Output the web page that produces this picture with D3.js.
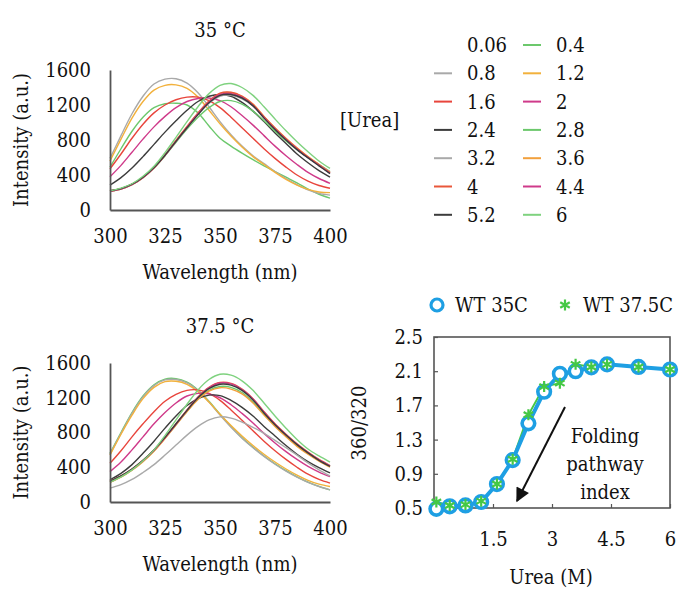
<!DOCTYPE html>
<html>
<head>
<meta charset="utf-8">
<script src="https://cdn.jsdelivr.net/npm/d3@7"></script>
</head>
<body style="margin:0;background:#fff;">
<svg id="fig" width="680" height="590"></svg>
<script>
// Emission wavelengths (nm) at which each spectrum is sampled
const wavelengths = [300,305,310,315,320,325,330,335,340,345,350,355,360,365,370,375,380,385,390,395,400];

// Urea concentrations (M) of the spectra, in legend order
const ureaLabels = ["0.06","0.4","0.8","1.2","1.6","2","2.4","2.8","3.2","3.6","4","4.4","5.2","6"];
const lineColors = ["#ffffff","#6cc86c","#a9a9a9","#f2b13c","#e8453c","#cf3a8a","#3c3c3c",
                    "#6cc86c","#a9a9a9","#f2a03c","#e9573a","#cf3a8a","#3c3c3c","#7fd27f"];

// Fluorescence intensity (a.u.) at 35 °C, one row per urea concentration
const spectra35 = [
  [480,690,890,1050,1160,1210,1220,1195,1110,970,830,730,645,570,500,435,370,305,240,180,135],
  [490,700,900,1060,1170,1215,1220,1200,1110,960,820,730,650,575,505,440,375,310,240,180,135],
  [590,850,1100,1300,1440,1495,1500,1450,1340,1180,1010,860,730,620,530,440,360,290,230,190,170],
  [560,810,1050,1240,1370,1425,1430,1390,1290,1140,985,845,720,610,520,430,350,285,235,205,198],
  [470,640,820,980,1110,1200,1260,1290,1290,1250,1170,1060,940,820,700,590,490,400,330,280,248],
  [380,510,660,810,950,1070,1170,1240,1275,1280,1250,1180,1080,970,850,730,620,520,430,360,305],
  [285,370,480,610,750,890,1020,1140,1240,1300,1320,1300,1230,1130,1010,880,760,640,540,450,375],
  [215,240,290,370,480,620,775,925,1060,1170,1240,1250,1210,1130,1020,900,790,690,600,520,440],
  [220,245,295,375,485,625,785,940,1090,1220,1300,1310,1270,1190,1060,930,810,700,600,515,435],
  [215,240,290,370,480,625,790,950,1105,1240,1330,1340,1300,1210,1070,940,820,710,610,520,430],
  [220,245,295,375,485,630,795,955,1110,1245,1335,1345,1300,1205,1065,935,815,705,605,515,425],
  [215,240,290,370,480,625,785,945,1100,1235,1320,1330,1290,1195,1055,925,805,695,600,510,420],
  [220,245,295,375,485,625,785,940,1090,1225,1310,1320,1280,1190,1050,920,800,690,595,505,415],
  [220,250,300,385,500,655,830,1010,1180,1330,1425,1445,1400,1310,1180,1040,905,780,665,560,475]
];

// Fluorescence intensity (a.u.) at 37.5 °C, one row per urea concentration
const spectra375 = [
  [560,800,1030,1220,1350,1415,1420,1380,1290,1160,1010,870,740,630,530,440,360,290,230,180,140],
  [560,800,1030,1220,1350,1415,1420,1380,1290,1160,1010,870,740,630,530,440,360,290,230,180,140],
  [550,790,1020,1210,1340,1405,1410,1370,1280,1150,1000,860,735,625,525,435,355,285,225,178,140],
  [540,780,1000,1190,1320,1385,1390,1355,1270,1150,1010,880,760,650,550,460,380,310,250,205,178],
  [445,590,750,900,1040,1160,1240,1285,1290,1250,1170,1060,940,820,700,590,490,400,320,260,218],
  [350,460,600,750,900,1030,1140,1220,1250,1245,1200,1120,1020,910,790,680,580,490,410,345,292],
  [255,330,430,560,700,850,990,1110,1190,1230,1225,1170,1090,990,870,760,650,550,465,395,334],
  [230,290,370,470,590,735,890,1045,1185,1285,1330,1320,1260,1150,1010,880,760,650,560,480,410],
  [160,200,260,340,430,540,655,770,870,945,980,965,920,860,790,710,625,540,450,370,300],
  [225,285,365,465,585,730,885,1040,1180,1275,1315,1300,1245,1140,1000,870,750,640,550,470,400],
  [240,300,380,480,600,745,900,1060,1210,1320,1375,1365,1300,1190,1040,900,780,670,575,490,420],
  [235,295,375,475,595,740,895,1055,1205,1315,1370,1360,1295,1185,1035,895,775,665,570,485,415],
  [240,300,380,480,600,745,900,1055,1200,1305,1355,1345,1285,1175,1025,890,770,660,565,480,410],
  [230,290,370,475,600,765,945,1125,1290,1410,1470,1460,1395,1285,1140,990,850,720,610,530,460]
];

const intensityTicks = [0, 400, 800, 1200, 1600];
const wavelengthTicks = [300, 325, 350, 375, 400];

// 360/320 intensity ratio versus urea
const ratioUrea = [0.06,0.4,0.8,1.2,1.6,2,2.4,2.8,3.2,3.6,4,4.4,5.2,6];
const ratioWT35 = [0.49,0.52,0.53,0.57,0.78,1.06,1.49,1.86,2.07,2.10,2.145,2.18,2.15,2.12];
const ratioWT375 = [0.57,0.53,0.54,0.58,0.78,1.07,1.59,1.92,1.96,2.18,2.15,2.18,2.15,2.12];
const ratioTicks = [0.5, 0.9, 1.3, 1.7, 2.1, 2.5];
const ureaTicks = [1.5, 3, 4.5, 6];
const ratioSeries = ["WT 35C", "WT 37.5C"];

const serifStack = "'DejaVu Serif Condensed', 'DejaVu Serif', serif";
const svg = d3.select("#fig")
  .attr("font-family", serifStack)
  .attr("font-stretch", "condensed")
  .attr("font-size", 20)
  .attr("fill", "#111");
const axisColor = "#555555";

function styleAxis(g) {
  g.attr("font-family", null).attr("font-size", null);
  g.selectAll("text").attr("fill", "#111");
}

function spectraPanel(rows, title, box, titleY) {
  const g = svg.append("g");
  const x = d3.scaleLinear().domain([300, 400]).range([box.left, box.right]);
  const y = d3.scaleLinear().domain([0, 1600]).range([box.bottom, box.top]);

  const line = d3.line()
    .x((d, i) => x(wavelengths[i]))
    .y(d => y(d))
    .curve(d3.curveCatmullRom);

  g.selectAll("path.spec").data(rows).join("path")
    .attr("class", "spec")
    .attr("d", d => line(d))
    .attr("fill", "none")
    .attr("stroke", (d, i) => lineColors[i])
    .attr("stroke-width", 1.4);

  const ya = g.append("g").attr("transform", `translate(${box.left},0)`)
    .call(d3.axisLeft(y).tickValues(intensityTicks).tickSize(0).tickPadding(19)
      .tickFormat(d3.format("d")));
  styleAxis(ya);
  ya.select(".domain").attr("stroke", axisColor).attr("stroke-width", 1.8);

  const xa = g.append("g").attr("transform", `translate(0,${box.bottom})`)
    .call(d3.axisBottom(x).tickValues(wavelengthTicks).tickSize(0).tickPadding(19)
      .tickFormat(d3.format("d")));
  styleAxis(xa);
  xa.select(".domain").attr("stroke", axisColor).attr("stroke-width", 1.8);

  g.append("text").attr("x", (box.left + box.right) / 2).attr("y", titleY)
    .attr("text-anchor", "middle").text(title);
  g.append("text").attr("x", (box.left + box.right) / 2).attr("y", box.bottom + 69)
    .attr("text-anchor", "middle").text("Wavelength (nm)");
  g.append("text")
    .attr("transform", `translate(28,${(box.top + box.bottom) / 2}) rotate(-90)`)
    .attr("text-anchor", "middle").text("Intensity (a.u.)");
}

spectraPanel(spectra35, "35 °C", {left: 110, right: 330, top: 70, bottom: 210}, 37);
spectraPanel(spectra375, "37.5 °C", {left: 110, right: 330, top: 363, bottom: 502}, 333);

// Legend of urea concentrations, two columns
const legend = svg.append("g");
legend.append("text").attr("x", 340).attr("y", 120).attr("dy", "0.35em").text("[Urea]");
ureaLabels.forEach((lab, i) => {
  const col = i % 2, row = Math.floor(i / 2);
  const lx = col === 0 ? 434 : 523;
  const ly = 45 + row * 28.3;
  legend.append("line").attr("x1", lx).attr("x2", lx + 18).attr("y1", ly).attr("y2", ly)
    .attr("stroke", lineColors[i]).attr("stroke-width", 2);
  legend.append("text").attr("x", lx + 33).attr("y", ly).attr("dy", "0.35em").text(lab);
});

// 360/320 ratio panel
(function ratioPanel() {
  const box = {left: 434, right: 670, top: 337, bottom: 508};
  const g = svg.append("g");
  const x = d3.scaleLinear().domain([0, 6]).range([box.left, box.right]);
  const y = d3.scaleLinear().domain([0.5, 2.5]).range([box.bottom, box.top]);
  const blue = "#1e9fe3", green = "#45c845";

  g.append("rect").attr("x", box.left).attr("y", box.top)
    .attr("width", box.right - box.left).attr("height", box.bottom - box.top)
    .attr("fill", "none").attr("stroke", axisColor).attr("stroke-width", 1.6);

  const ya = g.append("g").attr("transform", `translate(${box.left},0)`)
    .call(d3.axisLeft(y).tickValues(ratioTicks).tickSizeInner(-4).tickSizeOuter(0).tickPadding(11)
      .tickFormat(d3.format(".1f")));
  styleAxis(ya);
  ya.select(".domain").remove();
  ya.selectAll("line").attr("stroke", axisColor).attr("stroke-width", 1.2);

  const xa = g.append("g").attr("transform", `translate(0,${box.bottom})`)
    .call(d3.axisBottom(x).tickValues(ureaTicks).tickSizeInner(-4).tickSizeOuter(0).tickPadding(24)
      .tickFormat(d => d3.format("")(d)));
  styleAxis(xa);
  xa.select(".domain").remove();
  xa.selectAll("line").attr("stroke", axisColor).attr("stroke-width", 1.2);

  const line = d3.line().x((d, i) => x(ratioUrea[i])).y(d => y(d));

  g.append("path").attr("d", line(ratioWT375)).attr("fill", "none")
    .attr("stroke", green).attr("stroke-width", 2);
  g.append("path").attr("d", line(ratioWT35)).attr("fill", "none")
    .attr("stroke", blue).attr("stroke-width", 4);
  g.selectAll("circle.wt35").data(ratioWT35).join("circle")
    .attr("class", "wt35")
    .attr("cx", (d, i) => x(ratioUrea[i])).attr("cy", d => y(d)).attr("r", 6.3)
    .attr("fill", "#fff").attr("stroke", blue).attr("stroke-width", 3.6);

  const star = d3.symbol().type(d3.symbolAsterisk).size(85);
  g.selectAll("path.wt375").data(ratioWT375).join("path")
    .attr("class", "wt375")
    .attr("transform", (d, i) => `translate(${x(ratioUrea[i])},${y(d)})`)
    .attr("d", star).attr("fill", "none").attr("stroke", green).attr("stroke-width", 2.2);

  // Series legend above the panel
  g.append("circle").attr("cx", 437).attr("cy", 305).attr("r", 6)
    .attr("fill", "#fff").attr("stroke", blue).attr("stroke-width", 3.2);
  g.append("text").attr("x", 455).attr("y", 305).attr("dy", "0.35em").text(ratioSeries[0]);
  g.append("path").attr("transform", "translate(565,305)").attr("d", star)
    .attr("fill", "none").attr("stroke", green).attr("stroke-width", 2.2);
  g.append("text").attr("x", 583).attr("y", 305).attr("dy", "0.35em").text(ratioSeries[1]);

  // Axis titles
  g.append("text").attr("x", (box.left + box.right) / 2 - 1).attr("y", 584)
    .attr("text-anchor", "middle").text("Urea (M)");
  g.append("text").attr("transform", `translate(366,423) rotate(-90)`)
    .attr("text-anchor", "middle").text("360/320");

  // Annotation arrow and caption
  svg.append("defs").append("marker").attr("id", "head")
    .attr("viewBox", "0 0 10 10").attr("refX", 9).attr("refY", 5)
    .attr("markerWidth", 8).attr("markerHeight", 7).attr("markerUnits", "strokeWidth")
    .attr("orient", "auto")
    .append("path").attr("d", "M0,0 L10,5 L0,10 z").attr("fill", "#111");
  g.append("line").attr("x1", 565).attr("y1", 407).attr("x2", 517).attr("y2", 501)
    .attr("stroke", "#111").attr("stroke-width", 2).attr("marker-end", "url(#head)");
  ["Folding", "pathway", "index"].forEach((t, i) => {
    g.append("text").attr("x", 605).attr("y", 436 + i * 28).attr("dy", "0.35em")
      .attr("text-anchor", "middle").text(t);
  });
})();
</script>
</body>
</html>
